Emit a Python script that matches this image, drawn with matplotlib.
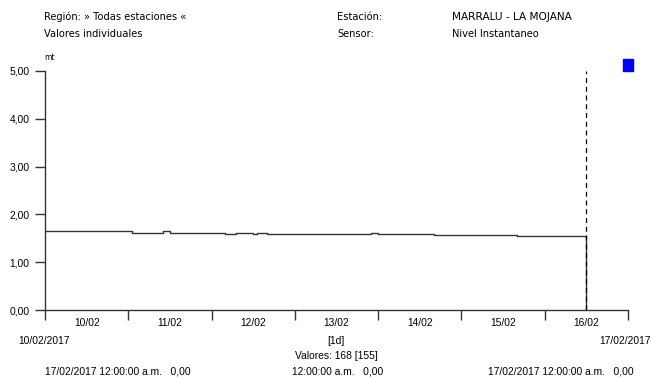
import matplotlib
matplotlib.use("Agg")
import matplotlib.pyplot as plt
import numpy as np

plt.rcParams['font.family'] = ['DejaVu Sans']

# hours since 10/02/2017 00:00 and water level (mt)
hours = [0, 25, 34, 36, 52, 55, 60, 61, 64, 94, 96, 112, 136, 138, 155, 156]
level = [1.66, 1.62, 1.66, 1.62, 1.60, 1.62, 1.60, 1.62, 1.60, 1.61, 1.60,
         1.575, 1.54, 1.55, 1.55, 0.0]
day_labels = ['10/02', '11/02', '12/02', '13/02', '14/02', '15/02', '16/02']
y_ticks = [0, 1, 2, 3, 4, 5]
cursor_hour = 156

W, H = 652, 379
fig = plt.figure(figsize=(W / 100, H / 100), dpi=100)
ax = fig.add_axes([45 / W, (H - 310) / H, 583 / W, (310 - 71) / H])

dark = '#333333'
ax.plot(hours, level, drawstyle='steps-post', color=dark, lw=1)
ax.plot([cursor_hour, cursor_hour], [0, 5], color='black', lw=0.9, ls=(0, (4, 3)))

ax.set_xlim(0, 168)
ax.set_ylim(0, 5)
for s in ['top', 'right']:
    ax.spines[s].set_visible(False)
for s in ['left', 'bottom']:
    ax.spines[s].set_color(dark)
    ax.spines[s].set_linewidth(1)

fs = 7.1       # word labels
num = dict(fontsize=7.4, family='Liberation Sans')   # numeric labels
ax.set_yticks(y_ticks)
ax.set_yticklabels(['%d,00' % v for v in y_ticks], **num)
ax.set_xticks(np.arange(0, 169, 24))
ax.set_xticklabels([])
ax.set_xticks(np.arange(12, 168, 24), minor=True)
ax.set_xticklabels(day_labels, minor=True, **num)
ax.tick_params(axis='x', which='minor', length=0, pad=6)
ax.tick_params(axis='x', which='major', length=7, width=1, color=dark)
ax.tick_params(axis='y', length=7, width=1, color=dark, pad=4)

def t(x, y, s, **kw):
    kw.setdefault('fontsize', fs)
    fig.text(x / W, 1 - y / H, s, va='center', **kw)

t(44, 17, 'Región: » Todas estaciones «')
t(44, 34, 'Valores individuales')
t(337, 17, 'Estación:')
t(337, 34, 'Sensor:')
t(452, 17, 'MARRALU - LA MOJANA', fontsize=7.6)
t(452, 34, 'Nivel Instantaneo')
fig.text(44 / W, 1 - 57 / H, 'mt', fontsize=5.5, va='center')

t(44, 341, '10/02/2017', ha='center', **num)
t(651, 341, '17/02/2017', ha='right', **num)
t(336, 341, '[1d]', ha='center', **num)
t(336, 356, 'Valores: 168 [155]', ha='center', **num)
t(45, 371, '17/02/2017 12:00:00 a.m.   0,00', **num)
t(292, 371, '12:00:00 a.m.   0,00', **num)
t(488, 371, '17/02/2017 12:00:00 a.m.   0,00', **num)

fig.patches.append(plt.Rectangle((623 / W, 1 - 71 / H), 10 / W, 12 / H,
                                 transform=fig.transFigure, color='#0000ff'))

fig.savefig('out.png', dpi=100)
